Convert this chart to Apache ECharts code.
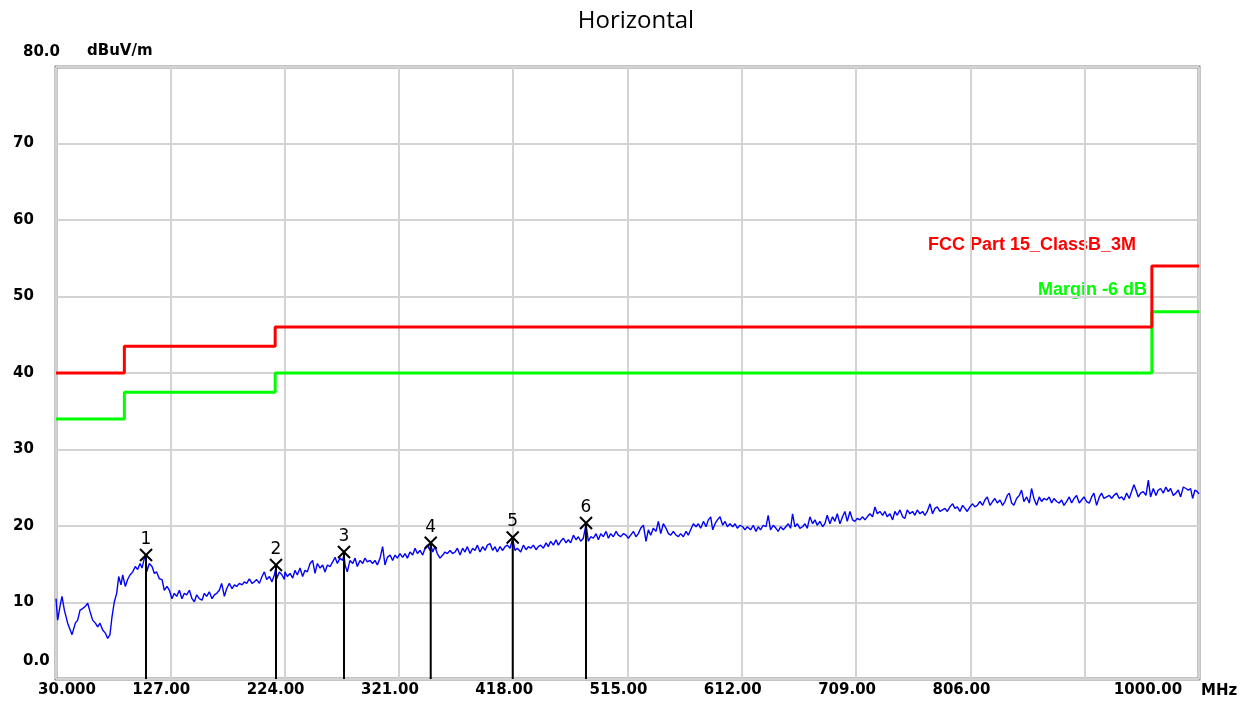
<!DOCTYPE html>
<html>
<head>
<meta charset="utf-8">
<script src="https://cdn.jsdelivr.net/npm/echarts@6/dist/echarts.min.js"></script>
<style>html,body{margin:0;padding:0;background:#fff}#c{width:1248px;height:704px}</style>
</head>
<body>
<div id="c"></div>
<script>
// ---- axis settings / tick labels ----
const xMin = 30, xMax = 1000, xStep = 97;
const yMin = 0, yMax = 80, yStep = 10;
const titleText = 'Horizontal';
const yUnit = 'dBuV/m';
const xUnit = 'MHz';

// ---- limit lines (step edges, MHz / dBuV/m) ----
const limitFreq   = [30, 88, 216, 960, 1000];
const limitLevel  = [40, 43.5, 46, 54, 54];
const marginLevel = [34, 37.5, 40, 48, 48];
const limitName = 'FCC Part 15_ClassB_3M';
const marginName = 'Margin -6 dB';

// ---- markers ----
const markerFreq  = [106.4, 216.7, 274.4, 348.0, 417.6, 479.8];
const markerLevel = [16.2, 14.9, 16.6, 17.8, 18.5, 20.4];
const markerLabel = ['1', '2', '3', '4', '5', '6'];

const traceSeg1 = [[30.0,10.5],[31.4,7.7],[33.4,9.5],[35.1,10.8],[37.1,9.0],[39.9,7.3],[43.6,5.8],[46.4,7.3],[48.4,7.7],[50.4,9.0],[52.6,9.2],[54.9,9.5],[56.9,9.9],[58.9,8.8],[61.1,7.7],[63.4,7.3],[65.4,6.8],[67.3,7.3],[69.6,6.4],[71.9,6.0],[73.8,5.3],[75.8,5.8],[77.5,8.1],[79.5,10.1],[81.5,11.2],[83.2,13.4],[85.2,12.3],[86.6,13.6],[88.8,12.1],[90.8,13.0],[92.8,13.6],[95.1,14.0],[97.3,14.7],[99.3,14.3],[101.3,15.1],[103.0,14.5],[105.0,15.8],[106.4,16.1],[107.0,14.0],[109.2,15.1],[111.5,14.7],[113.5,13.8],[115.4,14.0],[117.7,13.1],[120.0,13.0],[121.9,11.6],[124.2,12.1],[126.2,11.6],[128.4,10.5],[130.4,11.2],[132.4,10.8],[134.7,11.6],[136.9,10.5],[138.9,11.2],[140.9,11.0],[143.2,11.6],[145.4,10.5],[147.4,10.1],[149.4,11.0],[151.6,10.5],[153.9,10.3],[155.9,11.2],[157.9,10.8],[160.1,11.4],[162.4,10.5],[164.4,11.0],[166.4,11.2],[168.6,11.6],[170.6,12.5],[172.9,10.8],[174.8,11.8],[177.1,12.5],[179.4,11.8],[181.4,12.3],[183.3,12.1],[185.6,12.5],[187.9,12.3],[189.8,12.7],[191.8,12.5],[194.1,13.1],[196.3,12.5],[198.3,12.7],[200.3,13.0],[202.6,12.5],[204.8,13.4],[206.8,14.0],[208.8,13.0],[211.1,13.4],[213.3,12.7],[215.3,13.6],[216.7,14.6],[217.3,13.1],[219.5,14.0],[221.8,13.6],[223.8,13.0]];
const traceSeg2 = [[224.3,14.0],[226.3,13.4],[228.6,13.8],[230.9,13.2],[232.8,14.2],[234.8,13.6],[237.1,14.5],[239.3,13.4],[241.3,14.2],[243.3,14.0],[245.6,15.1],[247.8,15.5],[249.8,13.8],[251.8,15.1],[254.1,14.5],[256.3,14.9],[258.3,14.0],[260.3,14.9],[262.5,14.7],[264.8,15.3],[266.8,15.9],[268.8,15.1],[271.0,15.8],[273.3,15.5],[274.4,16.3],[275.3,14.9],[277.2,14.0],[279.5,15.5],[281.8,15.1],[283.8,15.8],[285.7,14.7],[288.0,15.5],[290.3,15.1],[292.2,15.8],[294.2,15.3],[296.5,15.5],[298.7,15.1],[300.7,15.5],[302.7,14.9],[305.0,15.8],[307.2,17.3],[309.2,14.9],[311.2,15.9],[313.5,16.2],[315.7,15.5],[317.7,16.2],[319.7,15.8],[321.9,16.4],[324.2,15.9],[326.2,16.4],[328.2,15.8],[330.4,16.6],[332.7,16.2],[334.7,17.1],[336.7,16.4],[338.9,16.8],[341.2,16.2],[343.2,17.1],[345.1,17.5],[347.4,16.8],[348.0,17.6],[349.7,16.6],[351.6,17.3],[353.6,16.4],[355.9,15.8],[358.2,16.2],[360.1,16.6],[362.1,16.4],[364.4,16.8],[366.6,16.4],[368.6,16.6],[370.6,17.1],[372.9,16.2],[375.1,17.1],[377.1,16.6],[379.1,17.3],[381.4,16.4],[383.6,17.1],[385.6,16.8],[387.6,17.5],[389.8,16.6],[392.1,17.3],[394.1,16.8],[396.1,17.5],[398.3,17.7],[400.6,16.8],[402.6,17.3],[404.5,16.6],[406.8,17.3],[409.1,16.8],[411.1,17.3],[413.0,17.5],[415.3,17.1],[417.6,18.3],[419.5,16.8],[421.5,17.1]];
const traceSeg3 = [[422.4,17.1],[424.4,16.6],[426.6,17.5],[428.9,16.9],[430.9,17.3],[432.8,17.1],[435.1,17.5],[437.4,16.9],[439.3,17.3],[441.3,17.5],[443.6,17.1],[445.9,17.8],[447.8,17.3],[449.8,18.0],[452.1,17.5],[454.3,18.2],[456.3,17.5],[458.3,18.0],[460.6,18.4],[462.8,17.8],[464.8,18.2],[466.8,17.8],[469.1,18.8],[471.3,18.2],[473.3,18.6],[475.3,18.0],[477.5,18.4],[479.8,20.2],[481.8,18.0],[483.8,18.6],[486.0,18.4],[488.3,19.0],[490.3,18.2],[492.3,19.0],[494.5,18.6],[496.8,19.3],[498.8,18.4],[500.7,19.0],[503.0,18.6],[505.3,19.3],[507.2,18.8],[509.2,18.6],[511.5,19.0],[513.7,18.8],[515.7,18.4],[517.7,18.8],[520.0,19.3],[522.2,18.6],[524.2,19.0],[526.2,19.7],[528.5,20.1],[530.7,18.0],[532.7,19.5],[534.7,18.8],[536.9,19.7],[539.2,19.3],[541.2,20.6],[543.2,19.0],[545.4,20.3],[547.7,19.7],[549.7,19.0],[551.7,18.8],[553.9,19.3],[556.2,18.8],[558.2,18.6],[560.1,19.0],[562.4,18.6],[564.7,19.3],[566.6,18.8],[568.6,19.5],[570.9,20.3],[573.2,19.9],[575.1,20.3],[577.1,19.7],[579.4,20.6],[581.7,19.9],[583.6,20.8],[585.6,21.2],[587.3,19.5],[589.3,20.3],[591.3,20.8],[593.5,21.2],[595.8,20.1],[597.8,20.6],[599.8,19.9],[602.0,20.3],[604.3,19.9],[606.3,20.3],[608.2,19.7],[610.5,20.1],[612.8,19.9],[614.7,19.5],[616.7,19.9]];
const traceSeg4 = [[617.5,19.9],[619.5,19.5],[621.7,20.1],[624.0,19.3],[626.0,19.9],[627.9,19.5],[630.2,20.1],[632.5,19.9],[634.4,21.4],[636.4,19.5],[638.7,20.1],[641.0,19.7],[642.9,19.3],[644.9,19.9],[647.2,19.5],[649.4,19.9],[651.4,20.3],[653.4,19.7],[655.1,21.6],[657.1,19.9],[659.1,20.3],[661.3,19.7],[663.6,19.9],[665.6,20.3],[667.5,19.7],[669.8,21.2],[672.1,20.3],[674.1,20.8],[676.0,20.1],[678.3,20.6],[680.6,19.9],[682.5,20.3],[684.5,21.4],[686.8,20.3],[689.0,21.2],[691.0,20.6],[693.0,21.6],[695.3,20.3],[697.5,21.2],[699.5,21.9],[701.5,20.6],[703.8,21.9],[706.0,20.8],[708.0,20.6],[710.0,21.0],[712.2,20.8],[714.5,21.2],[716.5,20.8],[718.5,21.2],[720.7,21.6],[723.0,21.2],[725.0,22.5],[727.0,21.6],[729.2,21.9],[731.5,21.4],[733.5,21.9],[735.4,21.2],[737.7,21.6],[740.0,20.8],[741.9,21.9],[743.9,21.4],[746.2,22.1],[748.5,21.2],[750.4,21.0],[752.4,22.1],[754.7,21.6],[756.9,21.9],[758.9,21.4],[760.9,22.1],[763.2,21.6],[765.4,21.9],[767.4,21.4],[769.4,21.9],[771.7,22.9],[773.9,21.6],[775.9,22.3],[777.9,22.5],[780.1,21.9],[782.4,22.1],[784.4,22.3],[786.4,21.9],[788.6,22.5],[790.9,22.9],[792.9,22.3],[794.9,22.5],[797.1,21.9],[799.4,22.7],[801.4,22.3],[803.3,21.9],[805.6,22.5],[807.9,22.9],[809.8,22.5],[811.8,22.7]];
const traceSeg5 = [[814.1,23.2],[816.4,22.7],[818.3,23.4],[820.3,23.8],[822.6,22.7],[824.8,23.2],[826.8,23.6],[828.8,23.0],[831.1,23.4],[833.3,22.7],[835.3,23.2],[837.3,24.0],[839.0,24.3],[841.0,23.0],[842.9,22.7],[845.2,23.6],[847.5,24.0],[849.4,24.7],[851.4,23.2],[853.7,23.8],[856.0,23.0],[857.9,24.9],[859.9,23.6],[862.2,22.7],[864.4,23.8],[866.4,23.2],[868.4,23.6],[870.7,23.4],[872.9,23.8],[874.9,23.0],[876.9,23.6],[879.2,23.2],[881.4,23.0],[883.4,23.4],[885.4,22.7],[887.6,23.2],[889.9,23.8],[891.9,23.0],[893.9,23.6],[896.1,24.0],[898.4,23.0],[900.4,23.4],[902.4,23.8],[904.6,23.2],[906.9,23.0],[908.9,23.8],[910.8,24.3],[913.1,22.7],[915.4,23.8],[917.3,24.3],[919.3,23.6],[921.6,23.8],[923.9,24.0],[925.8,23.6],[927.8,24.0],[930.1,24.3],[932.3,23.6],[934.3,23.8],[936.3,23.4],[938.6,24.3],[940.8,23.6],[942.8,24.5],[944.8,25.4],[946.5,24.7],[948.5,23.8],[950.4,24.3],[952.7,24.5],[955.0,24.0],[957.0,26.0],[958.9,23.8],[961.2,24.9],[963.5,24.0],[965.4,24.7],[967.4,24.9],[969.7,24.3],[971.9,25.1],[973.9,24.5],[975.9,24.9],[978.2,24.0],[980.4,24.3],[982.4,24.7],[984.4,23.8],[986.7,25.1],[988.9,24.9],[990.9,24.7],[992.9,24.9],[994.6,23.6],[996.6,24.7],[998.5,24.5],[1000.0,24.2]];

const trace = traceSeg1.concat(traceSeg2, traceSeg3, traceSeg4, traceSeg5);

const limitData = limitFreq.map((f, i) => [f, limitLevel[i]]);
const marginData = limitFreq.map((f, i) => [f, marginLevel[i]]);
const markerData = markerFreq.map((f, i) => [f, markerLevel[i], markerLabel[i]]);

const tickFont = 'DejaVu Sans';

function renderMarker(params, api) {
  const p = api.coord([api.value(0), api.value(1)]);
  const b = api.coord([api.value(0), 0]);
  const s = 6;
  const st = { stroke: '#000', lineWidth: 2 };
  return {
    type: 'group',
    children: [
      { type: 'line', shape: { x1: p[0], y1: p[1], x2: b[0], y2: b[1] }, style: st },
      { type: 'line', shape: { x1: p[0] - s, y1: p[1] - s, x2: p[0] + s, y2: p[1] + s }, style: st },
      { type: 'line', shape: { x1: p[0] - s, y1: p[1] + s, x2: p[0] + s, y2: p[1] - s }, style: st },
      { type: 'text', x: p[0], y: p[1] - 7,
        style: { text: markerLabel[params.dataIndex], textAlign: 'center', textVerticalAlign: 'bottom',
                 font: '17px "DejaVu Sans"', fill: '#000' } }
    ]
  };
}

const chart = echarts.init(document.getElementById('c'), null, { renderer: 'canvas' });
chart.setOption({
  animation: false,
  backgroundColor: '#fff',
  title: {
    text: titleText, left: 631, top: 4, textAlign: 'center',
    textStyle: { fontFamily: 'Open Sans', fontSize: 24, fontWeight: 'normal', color: '#000' }
  },
  grid: { left: 56, right: 49, top: 67, bottom: 25, show: true, borderColor: '#8a8a8a', borderWidth: 3, backgroundColor: 'transparent' },
  xAxis: {
    type: 'value', min: xMin, max: xMax, interval: xStep,
    name: xUnit, nameLocation: 'end', nameGap: 2,
    nameTextStyle: { fontFamily: tickFont, fontWeight: 'bold', fontSize: 15, color: '#000', verticalAlign: 'top', padding: [5, 0, 0, 0] },
    axisLine: { show: false }, axisTick: { show: false },
    splitLine: { show: true, lineStyle: { color: '#d3d3d3', width: 2 } },
    axisLabel: {
      margin: 4, fontFamily: tickFont, fontWeight: 'bold', fontSize: 15, color: '#000',
      showMinLabel: true, showMaxLabel: true, hideOverlap: false,
      formatter: function (v) {
        if (v === xMin) return '{f|' + v.toFixed(3) + '}';
        if (v === xMax) return '{m|' + v.toFixed(2) + '}';
        if (Math.abs(v - 903) < 0.01) return '';
        return '{n|' + v.toFixed(2) + '}';
      },
      rich: {
        f: { fontFamily: tickFont, fontWeight: 'bold', fontSize: 15, color: '#000', padding: [0, 0, 0, 22] },
        m: { fontFamily: tickFont, fontWeight: 'bold', fontSize: 15, color: '#000', padding: [0, 102, 0, 0] },
        n: { fontFamily: tickFont, fontWeight: 'bold', fontSize: 15, color: '#000', padding: [0, 18, 0, 0] }
      }
    }
  },
  yAxis: {
    type: 'value', min: yMin, max: yMax, interval: yStep,
    name: yUnit, nameLocation: 'end', nameGap: 8,
    nameTextStyle: { fontFamily: tickFont, fontWeight: 'bold', fontSize: 15, color: '#000', align: 'left', padding: [0, 0, 0, 31] },
    axisLine: { show: false }, axisTick: { show: false },
    splitLine: { show: true, lineStyle: { color: '#d3d3d3', width: 2 } },
    axisLabel: {
      margin: 43, align: 'left', fontFamily: tickFont, fontWeight: 'bold', fontSize: 15, color: '#000',
      showMinLabel: true, showMaxLabel: true,
      formatter: function (v) {
        if (v === yMin) return '{z|' + v.toFixed(1) + '}';
        if (v === yMax) return '{e|' + v.toFixed(1) + '}';
        return '{n|' + v + '}';
      },
      rich: {
        z: { fontFamily: tickFont, fontWeight: 'bold', fontSize: 15, color: '#000', padding: [0, 0, 36, 10] },
        e: { fontFamily: tickFont, fontWeight: 'bold', fontSize: 15, color: '#000', padding: [0, 0, 30, 10] },
        n: { fontFamily: tickFont, fontWeight: 'bold', fontSize: 15, color: '#000' }
      }
    }
  },
  series: [
    {
      type: 'line', name: 'trace', data: trace, showSymbol: false, symbol: 'none',
      lineStyle: { color: '#0000ff', width: 1.4 }, z: 3
    },
    {
      type: 'line', name: marginName, data: marginData, step: 'end', showSymbol: false, symbol: 'none',
      lineStyle: { color: '#00ff00', width: 3 }, z: 4
    },
    {
      type: 'line', name: limitName, data: limitData, step: 'end', showSymbol: false, symbol: 'none',
      lineStyle: { color: '#ff0000', width: 3 }, z: 5
    },
    {
      type: 'custom', name: 'markers', data: markerData, renderItem: renderMarker, z: 6
    }
  ],
  graphic: [
    { type: 'text', left: 928, top: 236, style: { text: limitName, font: 'bold 18px "Liberation Sans"', fill: '#ff0000' } },
    { type: 'text', left: 1038, top: 281, style: { text: marginName, font: 'bold 18px "Liberation Sans"', fill: '#00ff00' } }
  ]
});
</script>
</body>
</html>
